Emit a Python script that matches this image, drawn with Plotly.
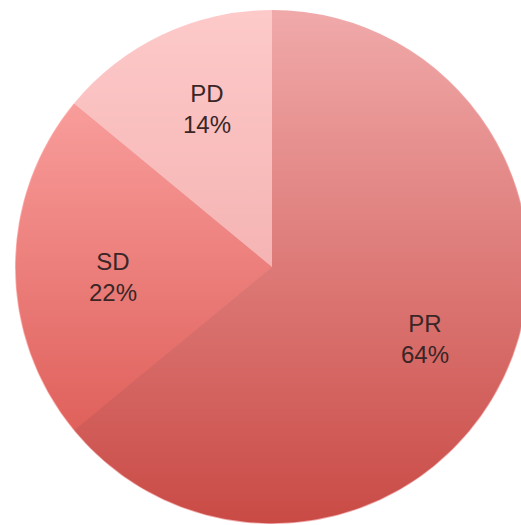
import math
import plotly.graph_objects as go

# Response categories and their share of patients
labels = ["PR", "SD", "PD"]
values = [64, 22, 14]

# Slice tints (semi-transparent so the shaded disc underneath gives a vertical gradient)
slice_colors = ["rgba(226,84,84,0.5)", "rgba(255,93,91,0.5)", "rgba(252,186,186,0.78)"]
shade_top, shade_bottom = "rgb(255,255,255)", "rgb(177,65,55)"

# Label placement: fraction of radius along each slice's mid-angle, plus a small pixel nudge
label_radius = [0.66, 0.62, 0.665]
label_nudge = [(0, 0), (0, -10), (8, 3)]

W, H = 545, 525
cx, cy, r = 272, 267, 257
dom_x = [(cx - r) / W, (cx + r) / W]
dom_y = [1 - (cy + r) / H, 1 - (cy - r) / H]

fig = go.Figure()

# Shaded disc beneath the pie (same footprint as the pie domain)
n = 361
ring = 0.997
circ_x = [ring * math.sin(2 * math.pi * i / (n - 1)) for i in range(n)]
circ_y = [ring * math.cos(2 * math.pi * i / (n - 1)) for i in range(n)]
fig.add_trace(
    go.Scatter(
        x=circ_x,
        y=circ_y,
        mode="lines",
        line=dict(width=0),
        fill="toself",
        fillgradient=dict(
            type="vertical",
            colorscale=[[0, shade_bottom], [1, shade_top]],
            start=-1,
            stop=1,
        ),
        hoverinfo="skip",
        showlegend=False,
    )
)

fig.add_trace(
    go.Pie(
        labels=labels,
        values=values,
        sort=False,
        direction="clockwise",
        rotation=0,
        marker=dict(colors=slice_colors, line=dict(width=0)),
        textinfo="none",
        domain=dict(x=dom_x, y=dom_y),
        showlegend=False,
        hoverinfo="label+percent",
    )
)

# Category / percent labels at each slice's mid-angle
total = sum(values)
cum = 0
for lab, v, rf, (dx, dy) in zip(labels, values, label_radius, label_nudge):
    mid = 2 * math.pi * (cum + v / 2) / total
    cum += v
    fig.add_annotation(
        x=rf * math.sin(mid),
        y=rf * math.cos(mid),
        xref="x",
        yref="y",
        text=f"{lab}<br>{round(100 * v / total)}%",
        showarrow=False,
        xanchor="center",
        yanchor="middle",
        xshift=dx,
        yshift=dy,
        font=dict(family="Liberation Sans, Arial, sans-serif", size=24, color="#3a2626"),
    )

fig.update_layout(
    width=W,
    height=H,
    margin=dict(l=0, r=0, t=0, b=0),
    paper_bgcolor="white",
    plot_bgcolor="white",
    xaxis=dict(domain=dom_x, range=[-1, 1], visible=False, fixedrange=True),
    yaxis=dict(domain=dom_y, range=[-1, 1], visible=False, fixedrange=True),
)

fig.write_html("out.html", post_script="document.body.style.overflow='hidden';")
